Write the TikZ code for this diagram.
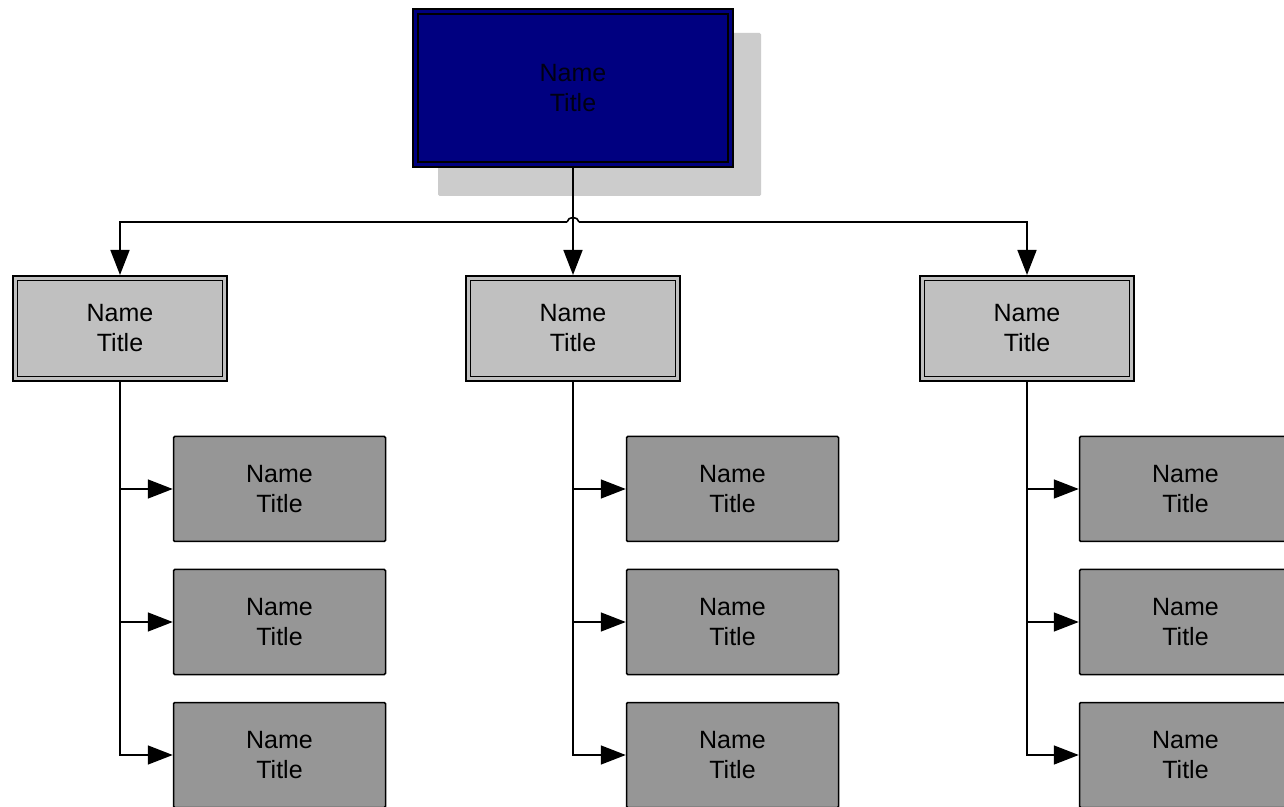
\documentclass[tikz,border=0pt]{standalone}
\usepackage{fontspec}
\setmainfont{Liberation Sans}
\usetikzlibrary{arrows.meta}
\definecolor{headfill}{HTML}{000080}
\definecolor{midfill}{HTML}{C0C0C0}
\definecolor{leaffill}{HTML}{969696}
\definecolor{shadowfill}{HTML}{CCCCCC}
\tikzset{
  lbl/.style={align=center, font=\fontsize{25}{30}\selectfont, inner sep=0pt},
  headbox/.style={lbl, draw=black, double=headfill, double distance=3pt, line width=2pt,
    fill=headfill, minimum width=315pt, minimum height=153pt, outer sep=3.5pt, text=black!85!headfill},
  shadowbox/.style={fill=shadowfill, minimum width=323pt, minimum height=163pt, inner sep=0pt, rounded corners=1.5pt},
  midbox/.style={lbl, draw=black, double=midfill, double distance=3pt, line width=1.6pt,
    fill=midfill, minimum width=209.8pt, minimum height=100.8pt, outer sep=3.1pt},
  leafbox/.style={lbl, draw=black, fill=leaffill, line width=1.5pt, rounded corners=1.2pt,
    minimum width=212pt, minimum height=105pt, outer sep=0.75pt},
  link/.style={draw=black, line width=1.6pt},
  arr/.style={link, -{Triangle[length=25pt,width=19pt]}}
}
\begin{document}
\begin{tikzpicture}[x=1pt,y=1pt]
\useasboundingbox (0,0) rectangle (1284,806);
\fill[white] (0,0) rectangle (1284,806);

% head of the chart with its drop shadow
\node[shadowbox] (shadow) at (599.5,691.5) {};
\node[headbox] (top) at (573,718) {Name\\Title};

% second level
\node[midbox] (m1) at (120,477.5) {Name\\Title};
\node[midbox] (m2) at (573,477.5) {Name\\Title};
\node[midbox] (m3) at (1027,477.5) {Name\\Title};

% third level
\foreach \g/\x in {1/279.5,2/732.5,3/1185.5}{
  \node[leafbox] (c\g1) at (\x,317) {Name\\Title};
  \node[leafbox] (c\g2) at (\x,184) {Name\\Title};
  \node[leafbox] (c\g3) at (\x,51) {Name\\Title};
}

% bus from the head to the second level, hopping over the trunk
\coordinate (hopL) at (567,584);
\coordinate (hopR) at (579,584);
\draw[arr] (top.south) -- (m2.north);
\draw[link] (hopL) .. controls (568,590) and (578,590) .. (hopR);
\draw[arr] (hopL) -| (m1.north);
\draw[arr] (hopR) -| (m3.north);

% trunks and branches to the third level
\foreach \g in {1,2,3}{
  \draw[arr] (m\g.south) |- (c\g3.west);
  \draw[arr] (m\g.south |- c\g1.west) -- (c\g1.west);
  \draw[arr] (m\g.south |- c\g2.west) -- (c\g2.west);
}
\end{tikzpicture}
\end{document}
